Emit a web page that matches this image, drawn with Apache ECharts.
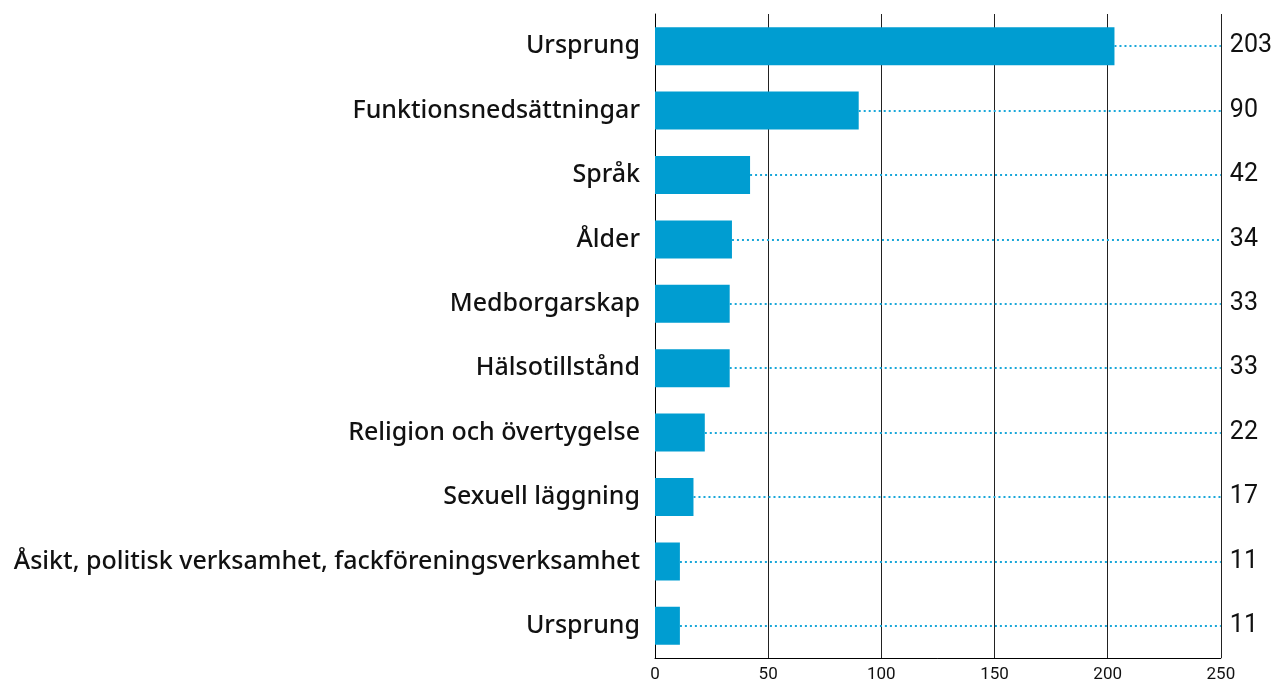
<!DOCTYPE html>
<html>
<head>
<meta charset="utf-8">
<style>
  * { margin: 0; padding: 0; }
  body { background: #ffffff; }
  #chart { width: 1275px; height: 686px; }
</style>
</head>
<body>
<div id="chart"></div>
<script src="https://cdn.jsdelivr.net/npm/echarts@6/dist/echarts.min.js"></script>
<script>
// kategorier och värden, uppifrån och ner
const categories = [
  'Ursprung',
  'Funktionsnedsättningar',
  'Språk',
  'Ålder',
  'Medborgarskap',
  'Hälsotillstånd',
  'Religion och övertygelse',
  'Sexuell läggning',
  'Åsikt, politisk verksamhet, fackföreningsverksamhet',
  'Ursprung'
];
const values = [203, 90, 42, 34, 33, 33, 22, 17, 11, 11];
const xTicks = [0, 50, 100, 150, 200, 250];

const FONT = 'Roboto';
const LABEL_FONT = 'Noto Sans';
const BLUE = '#009dd1';
const xMax = xTicks[xTicks.length - 1];

// prickade linjer från stapelns slut till högerkanten
const dotLines = values.map((v, i) => [
  { coord: [v, i] },
  { coord: [xMax, i] }
]);

const chart = echarts.init(document.getElementById('chart'));
chart.setOption({
  animation: false,
  backgroundColor: '#ffffff',
  grid: { left: 655, right: 52, top: 14, bottom: 28 },
  xAxis: {
    type: 'value',
    min: 0,
    max: xMax,
    interval: 50,
    axisLine: { show: true, lineStyle: { color: '#000', width: 1 } },
    axisTick: { show: false },
    splitLine: { show: true, lineStyle: { color: '#222', width: 1 } },
    axisLabel: { color: '#111', fontFamily: FONT, fontSize: 17, margin: 8 }
  },
  yAxis: [
    {
      type: 'category',
      data: categories,
      inverse: true,
      axisLine: { show: true, lineStyle: { color: '#000', width: 1 } },
      axisTick: { show: false },
      axisLabel: { color: '#111', fontFamily: LABEL_FONT, fontWeight: 500, fontSize: 25, margin: 15 }
    },
    {
      type: 'category',
      data: values.map(String),
      inverse: true,
      position: 'right',
      axisLine: { show: false },
      axisTick: { show: false },
      axisLabel: { color: '#111', fontFamily: FONT, fontSize: 25, margin: 9 }
    }
  ],
  series: [
    {
      type: 'bar',
      data: values,
      barCategoryGap: '41%',
      itemStyle: { color: BLUE },
      markLine: {
        silent: true,
        symbol: 'none',
        label: { show: false },
        lineStyle: { color: '#1aa7d9', type: [2, 3], width: 2 },
        data: dotLines
      }
    }
  ]
});
</script>
</body>
</html>
